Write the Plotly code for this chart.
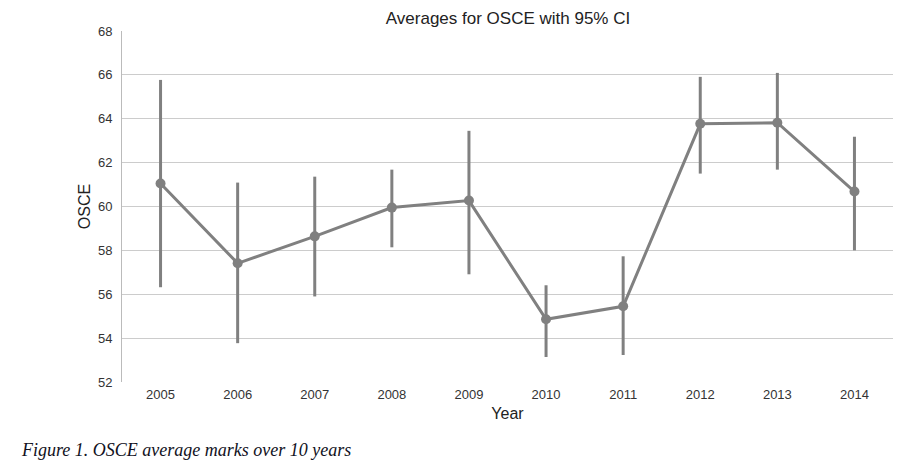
import plotly.graph_objects as go

years = ["2005", "2006", "2007", "2008", "2009", "2010", "2011", "2012", "2013", "2014"]
means = [61.05, 57.41, 58.64, 59.95, 60.27, 54.86, 55.45, 63.77, 63.82, 60.68]
ci_upper = [65.77, 61.09, 61.36, 61.68, 63.45, 56.41, 57.73, 65.91, 66.09, 63.18]
ci_lower = [56.32, 53.77, 55.90, 58.14, 56.91, 53.14, 53.23, 61.50, 61.68, 58.00]
y_ticks = [52, 54, 56, 58, 60, 62, 64, 66, 68]

err_plus = [u - m for u, m in zip(ci_upper, means)]
err_minus = [m - l for m, l in zip(means, ci_lower)]

# page body has an 8px margin; compensate so the chart lands where the reference has it
OFF = 8
W, H = 907 - OFF, 464 - OFF
L, R, T, B = 122 - OFF, 14, 31 - OFF, 82
PW, PH = W - L - R, H - T - B

gray = "#808080"
fig = go.Figure()
fig.add_trace(go.Scatter(
    x=years, y=means, mode="lines+markers",
    line=dict(color=gray, width=3),
    marker=dict(color=gray, size=10),
    error_y=dict(type="data", symmetric=False, array=err_plus, arrayminus=err_minus,
                 color=gray, thickness=3, width=0),
    showlegend=False,
))

fig.update_layout(
    width=W, height=H,
    margin=dict(l=L, r=R, t=T, b=B),
    paper_bgcolor="white", plot_bgcolor="white",
    font=dict(family="Liberation Sans, Arial, sans-serif", color="#333333"),
    title=dict(text="Averages for OSCE with 95% CI", x=(508 - OFF) / W, xanchor="center",
               y=1 - (18 - OFF) / H, yanchor="middle", font=dict(size=17, color="#222222")),
    xaxis=dict(type="category", range=[-0.5, 9.5], showgrid=False,
               showline=False, ticks="", tickfont=dict(size=13, color="#333333"),
               ticklabelstandoff=3,
               title=dict(text="Year", font=dict(size=16, color="#222222"), standoff=6)),
    yaxis=dict(range=[52, 68], tickvals=y_ticks, showgrid=True, gridcolor="#cccccc",
               gridwidth=1, showline=True, linecolor="#bbbbbb", linewidth=1,
               zeroline=False, ticks="", tickfont=dict(size=13, color="#333333"),
               ticklabelstandoff=6,
               title=dict(text="OSCE", font=dict(size=16, color="#222222"), standoff=3)),
)

fig.add_annotation(
    text="<i>Figure 1. OSCE average marks over 10 years</i>",
    xref="paper", yref="paper", x=-(L - (19 - OFF)) / PW, y=-(450 - 382) / PH,
    xanchor="left", yanchor="middle", showarrow=False,
    font=dict(family="Liberation Serif, Times New Roman, serif", size=18, color="#111122"),
)

fig.write_html("out.html")
